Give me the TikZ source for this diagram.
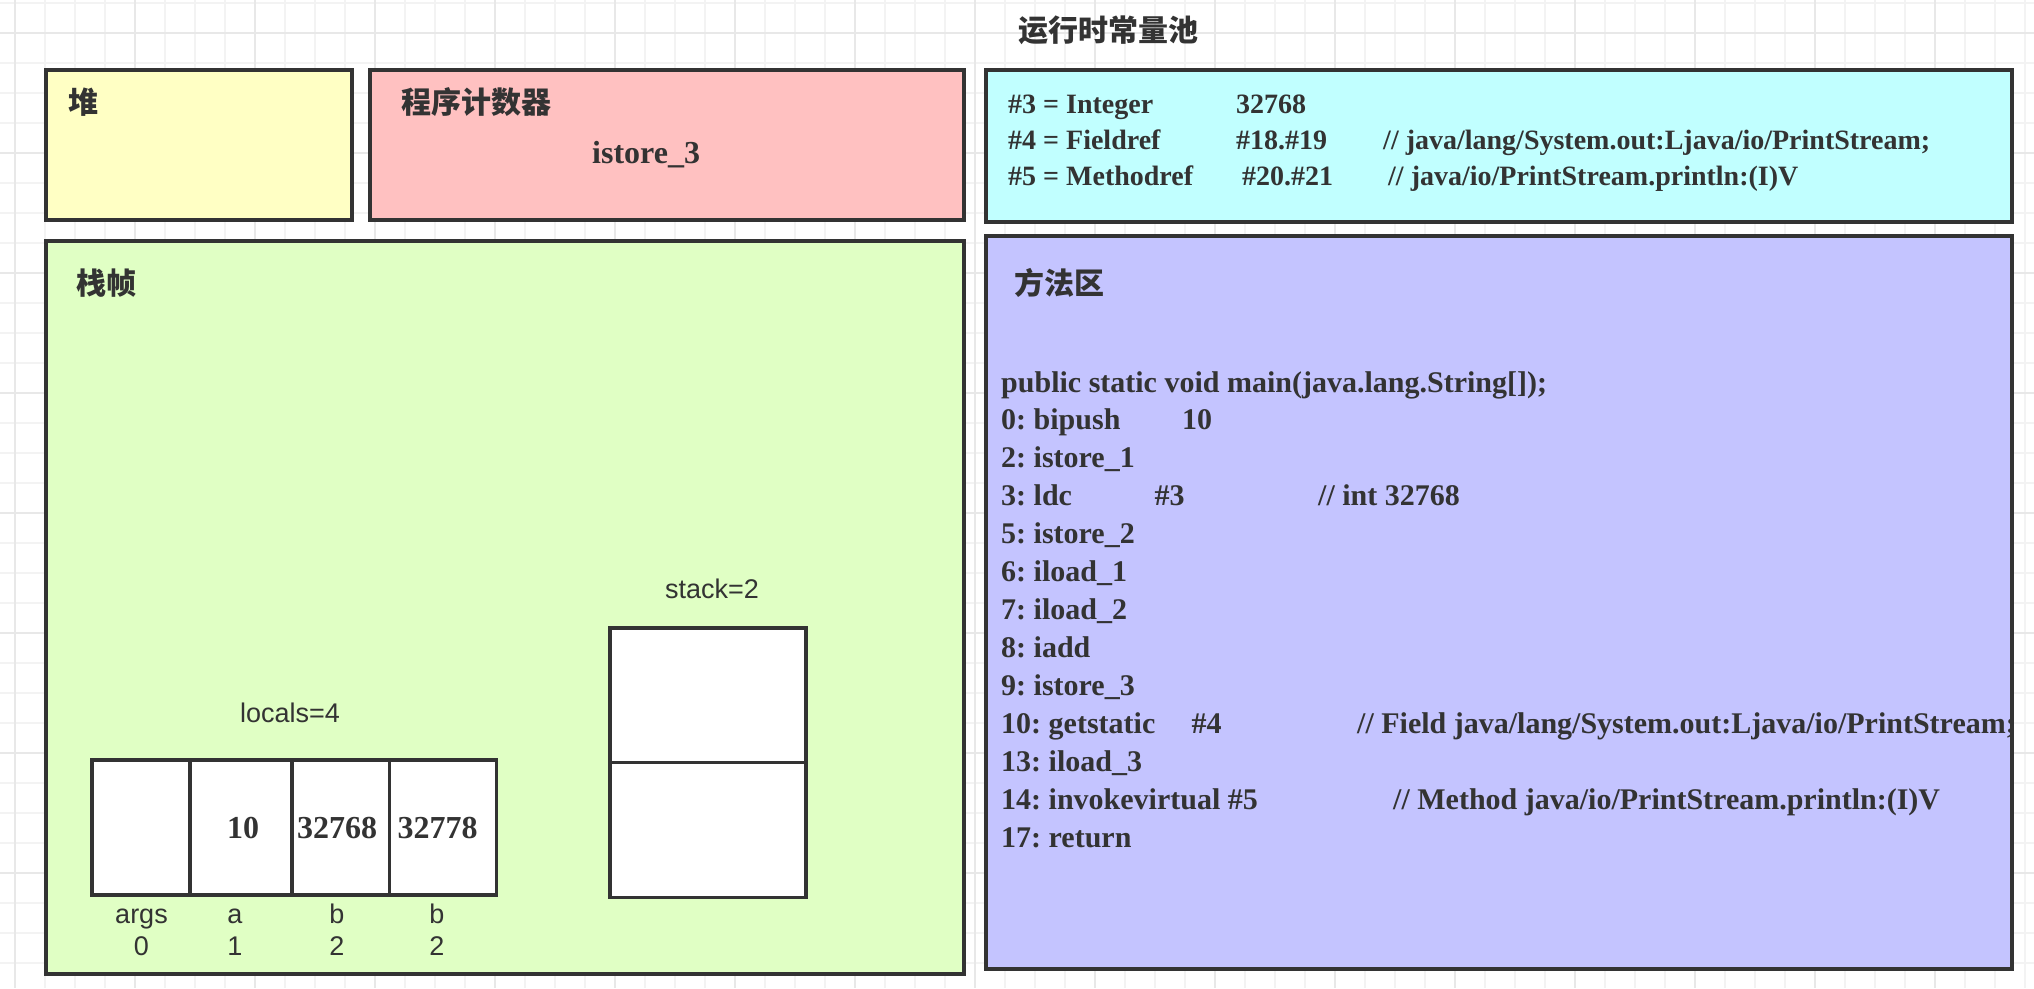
\documentclass[tikz,border=0pt]{standalone}
\usepackage{fontspec}
\setmainfont{Liberation Serif}
\setsansfont{Liberation Sans}
\newfontfamily\cjk{Noto Sans CJK SC}
\frenchspacing
\definecolor{ink}{HTML}{333333}
\definecolor{gridminor}{HTML}{F3F3F3}
\definecolor{gridmajor}{HTML}{E8E8E8}
\definecolor{cyellow}{HTML}{FFFFC4}
\definecolor{cpink}{HTML}{FFC1C1}
\definecolor{ccyan}{HTML}{C1FFFF}
\definecolor{cgreen}{HTML}{E0FFC4}
\definecolor{cpurple}{HTML}{C4C4FF}
\newcommand{\hb}[2]{\makebox[#1pt][l]{#2}}
\tikzset{
  panel/.style={draw=ink,line width=4pt,rectangle,anchor=north west,inner sep=0pt,outer sep=0pt},
  cellbox/.style={panel,fill=white,line width=3.4pt},
  cjklabel/.style={text=ink,inner sep=0pt,font=\cjk\bfseries\fontsize{30}{32}\selectfont},
  code/.style={text=ink,inner sep=0pt,anchor=base west,align=left,font=\bfseries\fontsize{30}{36}\selectfont},
  poolcode/.style={code,font=\bfseries\fontsize{28}{36}\selectfont},
  pcvalue/.style={code,font=\bfseries\fontsize{32}{36}\selectfont},
  val/.style={text=ink,inner sep=0pt,anchor=base,font=\bfseries\fontsize{32}{36}\selectfont},
  small/.style={text=ink,inner sep=0pt,anchor=base,font=\sffamily\fontsize{27}{30}\selectfont},
}
\begin{document}
\begin{tikzpicture}[x=1pt,y=-1pt]
\useasboundingbox (0,0) rectangle (2034,988);
\fill[white] (0,0) rectangle (2034,988);
% page grid
\foreach \gx in {15,45,...,2025} \draw[gridminor,line width=1.5pt] (\gx,0) -- (\gx,988);
\foreach \gy in {3,33,...,983} \draw[gridminor,line width=1.5pt] (0,\gy) -- (2034,\gy);
\foreach \gx in {15,135,...,2025} \draw[gridmajor,line width=1.5pt] (\gx,0) -- (\gx,988);
\foreach \gy in {33,153,...,983} \draw[gridmajor,line width=1.5pt] (0,\gy) -- (2034,\gy);
% panels
\node[panel,fill=cyellow,minimum width=306pt,minimum height=149.5pt] (heap) at (46,70) {};
\node[panel,fill=cpink,minimum width=594pt,minimum height=150pt] (pc) at (370,70) {};
\node[panel,fill=ccyan,minimum width=1026pt,minimum height=151.5pt] (pool) at (986,70) {};
\node[panel,fill=cgreen,minimum width=918pt,minimum height=733.5pt] (frame) at (46,240.5) {};
\node[panel,fill=cpurple,minimum width=1026pt,minimum height=733pt] (method) at (986,235.7) {};
% locals
\node[cellbox,minimum width=98pt,minimum height=135pt] (l0) at (92,760) {};
\node[cellbox,minimum width=102pt,minimum height=135pt] (l1) at (190,760) {};
\node[cellbox,minimum width=97.5pt,minimum height=135pt] (l2) at (292,760) {};
\node[cellbox,minimum width=107pt,minimum height=135pt] (l3) at (389.5,760) {};
% stack
\node[cellbox,minimum width=196pt,minimum height=134.7pt] (s0) at (610,628) {};
\node[cellbox,minimum width=196pt,minimum height=134.6pt] (s1) at (610,762.7) {};
% headings
\node[cjklabel] (title) at (1108,30) {运行时常量池};
\node[cjklabel] (heapt) at (83,102) {堆};
\node[cjklabel] (pct) at (476,102) {程序计数器};
\node[cjklabel] (framet) at (106,283) {栈帧};
\node[cjklabel] (methodt) at (1059,283) {方法区};
% program counter value
\node[pcvalue] (pcv) at (592,163) {istore\_3};
% constant pool
\node[poolcode] (p3) at (1008,113) {\hb{228}{\#3 = Integer}32768};
\node[poolcode] (p4) at (1008,149) {\hb{228}{\#4 = Fieldref}\hb{147}{\#18.\#19}// java/lang/System.out:Ljava/io/PrintStream;};
\node[poolcode] (p5) at (1008,185) {\hb{234}{\#5 = Methodref}\hb{146}{\#20.\#21}// java/io/PrintStream.println:(I)V};
% method listing
\node[code] (m0) at (1001,392) {public static void main(java.lang.String[]);};
\node[code] (m1) at (1001,429) {\hb{181}{0: bipush}10};
\node[code] (m2) at (1001,467) {2: istore\_1};
\node[code] (m3) at (1001,505) {\hb{153.5}{3: ldc}\hb{163.5}{\#3}// int 32768};
\node[code] (m4) at (1001,543) {5: istore\_2};
\node[code] (m5) at (1001,581) {6: iload\_1};
\node[code] (m6) at (1001,619) {7: iload\_2};
\node[code] (m7) at (1001,657) {8: iadd};
\node[code] (m8) at (1001,695) {9: istore\_3};
\node[code] (m9) at (1001,733) {\hb{190.5}{10: getstatic}\hb{165.5}{\#4}// Field java/lang/System.out:Ljava/io/PrintStream;};
\node[code] (m10) at (1001,771) {13: iload\_3};
\node[code] (m11) at (1001,809) {\hb{392}{14: invokevirtual \#5}// Method java/io/PrintStream.println:(I)V};
\node[code] (m12) at (1001,847) {17: return};
% local values
\node[val] (v1) at (243,838) {10};
\node[val] (v2) at (337,838) {32768};
\node[val] (v3) at (437.5,838) {32778};
% small labels
\node[small] (loc) at (290,722) {locals=4};
\node[small] (sta) at (712,598) {stack=2};
\node[small] (n0) at (141.5,923) {args};
\node[small] (n1) at (235,923) {a};
\node[small] (n2) at (337,923) {b};
\node[small] (n3) at (437,923) {b};
\node[small] (i0) at (141.5,955) {0};
\node[small] (i1) at (235,955) {1};
\node[small] (i2) at (337,955) {2};
\node[small] (i3) at (437,955) {2};
\end{tikzpicture}
\end{document}
